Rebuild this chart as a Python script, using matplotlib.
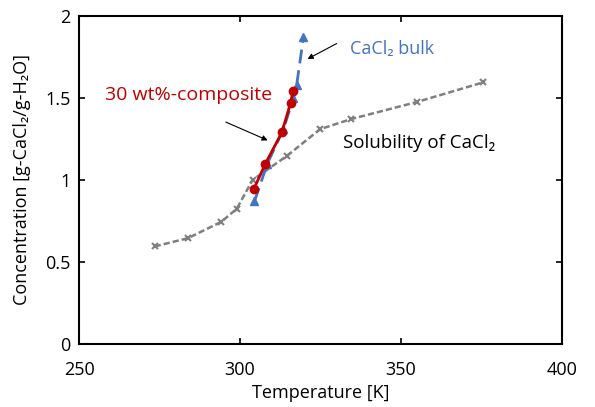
import matplotlib
matplotlib.use('Agg')
import matplotlib.pyplot as plt

plt.rcParams['font.family'] = ['Open Sans', 'DejaVu Sans']

# === DATA ===
sol_T = [273.5, 283.8, 294.2, 299.0, 303.9, 314.5, 324.9, 334.6, 355.0, 375.5]
sol_c = [0.595, 0.645, 0.745, 0.825, 1.00, 1.146, 1.31, 1.372, 1.476, 1.595]

bulk_T = [304.5, 308.5, 313.5, 316.6, 317.6, 319.7]
bulk_c = [0.87, 1.10, 1.31, 1.50, 1.58, 1.87]

comp_T = [304.3, 307.9, 313.0, 315.7, 316.5]
comp_c = [0.945, 1.10, 1.29, 1.47, 1.545]

x_ticks = [250, 300, 350, 400]
y_ticks = [0, 0.5, 1, 1.5, 2]
y_tick_labels = ['0', '0.5', '1', '1.5', '2']

# === PLOT ===
fig = plt.figure(figsize=(5.95, 4.07), dpi=100)
ax = fig.add_axes([0.1328, 0.1548, 0.8117, 0.8059])

ax.plot(sol_T, sol_c, color='#7f7f7f', ls=(0, (2.5, 1.2)), lw=1.8,
        marker='x', ms=4, mew=1.5, zorder=2)
ax.plot(bulk_T, bulk_c, color='#4472C4', ls=(0, (5, 2.5)), lw=2,
        marker='^', ms=6, zorder=3)
ax.plot(comp_T, comp_c, color='#C00000', lw=2,
        marker='o', ms=6, zorder=4)

ax.set_xlim(250, 400)
ax.set_ylim(0, 2)
ax.set_xticks(x_ticks)
ax.set_yticks(y_ticks)
ax.set_yticklabels(y_tick_labels)
ax.tick_params(direction='in', top=True, right=True, labelsize=13,
               length=4, width=1.2)
ax.tick_params(axis='x', pad=12)
ax.tick_params(axis='y', pad=6)
for s in ax.spines.values():
    s.set_linewidth(1.5)

ax.set_xlabel('Temperature [K]', fontsize=13, labelpad=4)
ax.set_ylabel('Concentration [g-CaCl₂/g-H₂O]', fontsize=13, labelpad=10)

ax.text(258, 1.52, '30 wt%-composite', color='#C00000', fontsize=14,
        ha='left', va='center')
ax.annotate('', xy=(309.4, 1.235), xytext=(294.8, 1.36),
            arrowprops=dict(arrowstyle='-|>', color='black', lw=0.8,
                            mutation_scale=8))
ax.text(334.2, 1.80, 'CaCl₂ bulk', color='#4472C4', fontsize=13,
        ha='left', va='center')
ax.annotate('', xy=(320.2, 1.73), xytext=(330.8, 1.84),
            arrowprops=dict(arrowstyle='-|>', color='black', lw=0.8,
                            mutation_scale=8))
ax.text(332.0, 1.225, 'Solubility of CaCl₂', fontsize=13.5, ha='left',
        va='center', color='black')

fig.savefig('out.png', dpi=100)
